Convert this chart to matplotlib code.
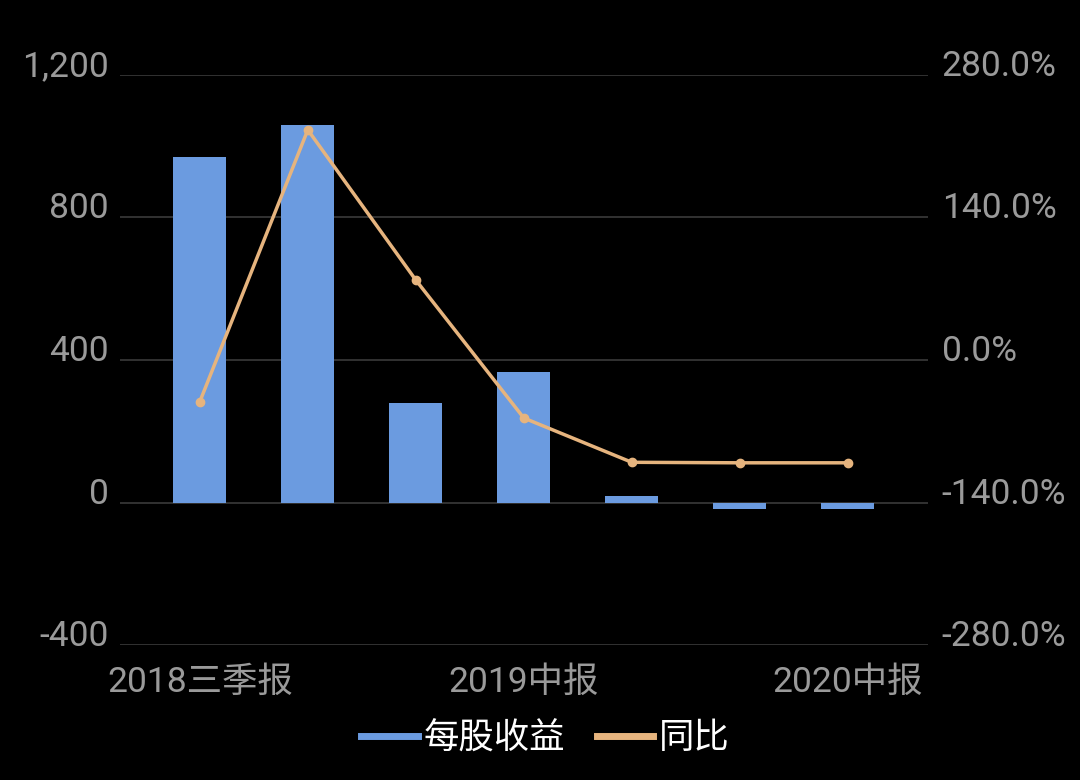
import matplotlib
matplotlib.use("Agg")
import matplotlib.pyplot as plt
import matplotlib.transforms as mtransforms
from matplotlib.ticker import FuncFormatter, FixedLocator
import numpy as np

plt.rcParams['font.family'] = ['Roboto', 'Noto Sans CJK SC', 'DejaVu Sans']

# data
periods = ['2018三季报', '2018年报', '2019一季报', '2019中报', '2019三季报', '2019年报', '2020中报']
eps = [970, 1058, 279, 367, 17, -18, -18]
yoy = [-41.0, 226.0, 78.5, -57.0, -100.5, -101.0, -101.0]
shown_ticks = [0, 3, 6]

bar_color = '#6b9be0'
line_color = '#e6b47e'
tick_color = '#9a9a9a'
grid_color = '#3a3a3a'

fig = plt.figure(figsize=(10.8, 7.8), dpi=100, facecolor='black')
ax = fig.add_axes([0.111, 0.173, 0.748, 0.731], facecolor='black')
ax2 = ax.twinx()

x = np.arange(len(periods))
ax.bar(x, eps, width=0.49, color=bar_color, zorder=2, label='每股收益')
ax2.plot(x, yoy, color=line_color, lw=2.5, marker='o', ms=6, zorder=3, label='同比')

ax.set_xlim(-0.74, len(periods) - 1 + 0.74)
ax.set_ylim(-400, 1200)
ax2.set_ylim(-280, 280)
ax.yaxis.set_major_locator(FixedLocator([-400, 0, 400, 800, 1200]))
ax2.yaxis.set_major_locator(FixedLocator([-280, -140, 0, 140, 280]))
ax.yaxis.set_major_formatter(FuncFormatter(lambda v, p: f'{v:,.0f}'))
ax2.yaxis.set_major_formatter(FuncFormatter(lambda v, p: f'{v:.1f}%'))

ax.set_xticks([x[i] for i in shown_ticks])
ax.set_xticklabels([periods[i] for i in shown_ticks])

ax.grid(axis='y', color=grid_color, lw=1.2, zorder=0)
ax.set_axisbelow(True)
for a in (ax, ax2):
    for s in a.spines.values():
        s.set_visible(False)
    a.tick_params(length=0, colors=tick_color, labelsize=25.5)
ax.tick_params(axis='y', pad=8)
ax2.tick_params(axis='y', pad=10)
ax.tick_params(axis='x', pad=15)

# labels sit a bit above the gridlines
off = mtransforms.ScaledTranslation(0, 12 / 100, fig.dpi_scale_trans)
for lbl in ax.get_yticklabels() + ax2.get_yticklabels():
    lbl.set_transform(lbl.get_transform() + off)

l1 = ax.get_legend_handles_labels()[1]
l2 = ax2.get_legend_handles_labels()[1]
handles = [plt.Line2D([], [], color=bar_color, lw=5), plt.Line2D([], [], color=line_color, lw=5)]
leg = fig.legend(handles, l1 + l2, loc='center', bbox_to_anchor=(0.505, 0.053), ncol=2,
                 frameon=False, fontsize=25.5, handlelength=1.6, handletextpad=0.15, columnspacing=0.9)
for t in leg.get_texts():
    t.set_color('white')

fig.savefig('out.png', dpi=100, facecolor='black')
